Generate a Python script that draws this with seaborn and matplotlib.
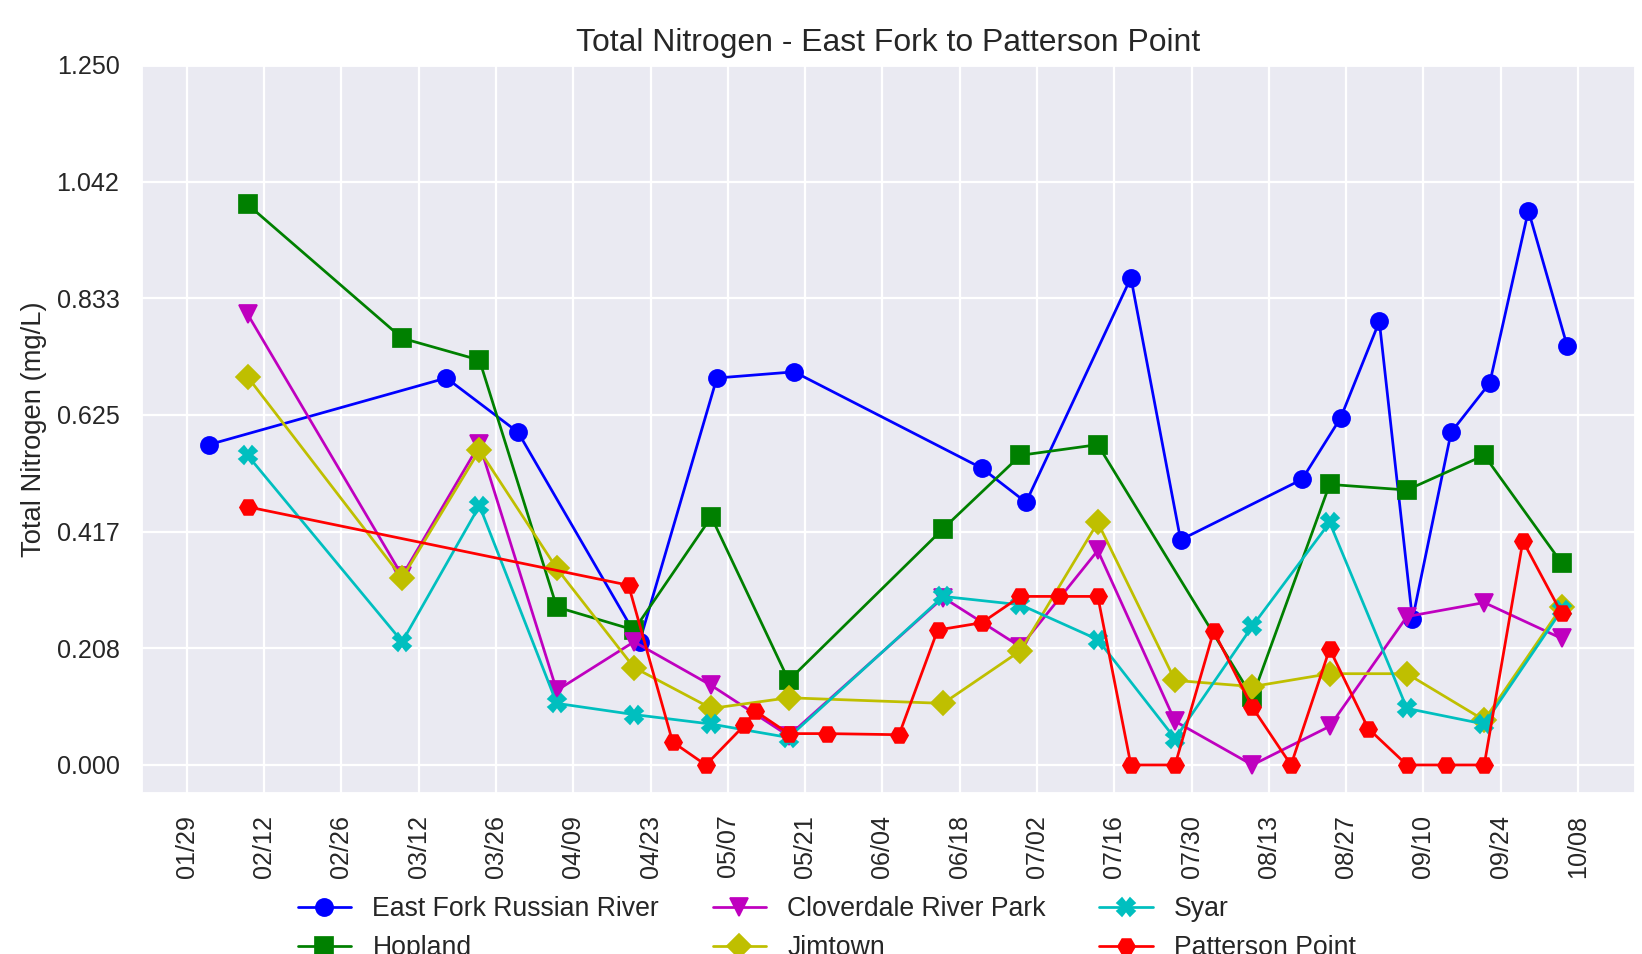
import matplotlib
matplotlib.use("Agg")
import matplotlib.pyplot as plt
import matplotlib.dates as mdates
import numpy as np
import pandas as pd
import seaborn as sns

# --- data (mg/L) ---
east_fork_dates = ["2023-02-02", "2023-03-17", "2023-03-30", "2023-04-21", "2023-05-05",
                   "2023-05-19", "2023-06-22", "2023-06-30", "2023-07-19", "2023-07-28",
                   "2023-08-19", "2023-08-26", "2023-09-02", "2023-09-08", "2023-09-15",
                   "2023-09-22", "2023-09-29", "2023-10-06"]
east_fork_tn = [0.572, 0.691, 0.594, 0.220, 0.691, 0.702, 0.530, 0.469, 0.870, 0.402,
                0.510, 0.620, 0.792, 0.260, 0.594, 0.682, 0.990, 0.749]

hopland_dates = ["2023-02-09", "2023-03-09", "2023-03-23", "2023-04-06", "2023-04-20",
                 "2023-05-04", "2023-05-18", "2023-06-15", "2023-06-29", "2023-07-13",
                 "2023-08-10", "2023-08-24", "2023-09-07", "2023-09-21", "2023-10-05"]
hopland_tn = [1.001, 0.762, 0.723, 0.282, 0.241, 0.443, 0.151, 0.422, 0.553, 0.572,
              0.121, 0.501, 0.491, 0.553, 0.361]

# Cloverdale, Jimtown and Syar share the same sampling runs
site_dates = ["2023-02-09", "2023-03-09", "2023-03-23", "2023-04-06", "2023-04-20",
              "2023-05-04", "2023-05-18", "2023-06-15", "2023-06-29", "2023-07-13",
              "2023-07-27", "2023-08-10", "2023-08-24", "2023-09-07", "2023-09-21",
              "2023-10-05"]
cloverdale_tn = [0.805, 0.338, 0.573, 0.133, 0.220, 0.142, 0.052, 0.299, 0.211, 0.383,
                 0.078, 0.000, 0.069, 0.265, 0.290, 0.226]
jimtown_tn = [0.693, 0.334, 0.562, 0.351, 0.174, 0.101, 0.120, 0.110, 0.204, 0.433,
              0.151, 0.140, 0.163, 0.163, 0.080, 0.282]
syar_tn = [0.553, 0.220, 0.463, 0.110, 0.090, 0.073, 0.049, 0.301, 0.286, 0.224,
           0.047, 0.248, 0.433, 0.101, 0.073, 0.276]

patterson_dates = ["2023-02-09", "2023-04-19", "2023-04-27", "2023-05-03", "2023-05-10",
                   "2023-05-12", "2023-05-18", "2023-05-25", "2023-06-07", "2023-06-14",
                   "2023-06-22", "2023-06-29", "2023-07-06", "2023-07-13", "2023-07-19",
                   "2023-07-27", "2023-08-03", "2023-08-10", "2023-08-17", "2023-08-24",
                   "2023-08-31", "2023-09-07", "2023-09-14", "2023-09-21", "2023-09-28",
                   "2023-10-05"]
patterson_tn = [0.461, 0.321, 0.041, 0.000, 0.071, 0.096, 0.056, 0.056, 0.054, 0.241,
                0.254, 0.301, 0.301, 0.301, 0.000, 0.000, 0.239, 0.103, 0.000, 0.207,
                0.065, 0.000, 0.000, 0.000, 0.400, 0.271]

tick_dates = pd.date_range("2023-01-29", "2023-10-08", freq="14D")

series = [
    ("East Fork Russian River", east_fork_dates, east_fork_tn, "#0000ff", "o"),
    ("Hopland", hopland_dates, hopland_tn, "#008000", "s"),
    ("Cloverdale River Park", site_dates, cloverdale_tn, "#bf00bf", "v"),
    ("Jimtown", site_dates, jimtown_tn, "#bfbf00", "D"),
    ("Syar", site_dates, syar_tn, "#00bfbf", "X"),
    ("Patterson Point", patterson_dates, patterson_tn, "#ff0000", "H"),
]

sns.set_theme(style="darkgrid")
plt.rcParams["font.family"] = ["Liberation Sans", "DejaVu Sans"]

dpi = 164.2
fig, ax = plt.subplots(figsize=(1642 / dpi, 954 / dpi), dpi=dpi)
fig.subplots_adjust(left=0.0859, right=0.9957, top=0.9319, bottom=0.1688)

for name, dates, values, color, marker in series:
    sns.lineplot(x=pd.to_datetime(dates), y=values, ax=ax, color=color,
                 marker=marker, markersize=7.5, markeredgecolor=color,
                 markeredgewidth=0.75, linewidth=1.2, label=name, legend=False)

if ax.get_legend() is not None:
    ax.get_legend().remove()

ax.set_ylim(-0.05, 1.25)
ax.set_yticks(np.linspace(0, 1.25, 7))
ax.yaxis.set_major_formatter(matplotlib.ticker.FormatStrFormatter("%.3f"))
ax.set_xticks(tick_dates)
ax.xaxis.set_major_formatter(mdates.DateFormatter("%m/%d"))
plt.setp(ax.get_xticklabels(), rotation=90)

ax.set_title("Total Nitrogen - East Fork to Patterson Point", fontsize=14)
ax.set_xlabel("")
ax.set_ylabel("Total Nitrogen (mg/L)")

# legend sits below the axes and runs off the bottom edge, as in the source
handles, labels = ax.get_legend_handles_labels()
fig.legend(handles, labels, loc="upper center", bbox_to_anchor=(0.5035, 0.086),
           ncol=3, frameon=False, fontsize=11.7)

fig.savefig("out.png", dpi=dpi)
